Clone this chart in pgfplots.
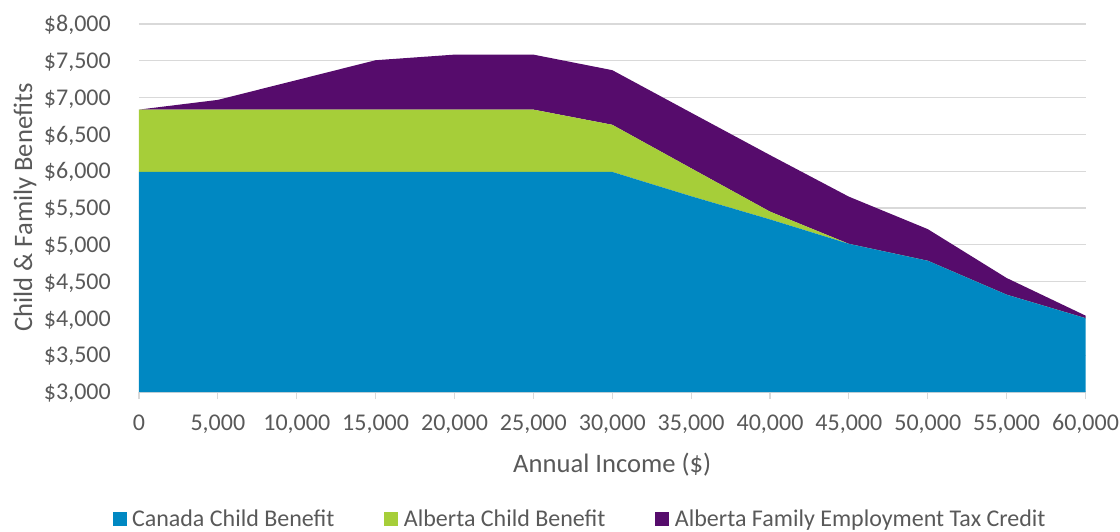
\documentclass[border=0pt]{standalone}
\usepackage{fontspec}
\setmainfont{Carlito}
\usepackage{pgfplots}
\pgfplotsset{compat=1.18}
\definecolor{cblue}{HTML}{0088C2}
\definecolor{cgreen}{HTML}{A6CE39}
\definecolor{cpurple}{HTML}{560C6C}
\definecolor{tgray}{HTML}{595959}
\definecolor{ggray}{HTML}{D9D9D9}
\begin{document}
\begin{tikzpicture}
\begin{axis}[
  at={(139pt,139pt)}, anchor=south west,
  scale only axis, width=946.5pt, height=368pt,
  xmin=0, xmax=60000, ymin=3000, ymax=8000,
  enlargelimits=false,
  stack plots=y,
  xtick={0,5000,...,60000},
  ytick={3000,3500,...,8000},
  scaled ticks=false,
  /pgf/number format/.cd, fixed, 1000 sep={,}, assume math mode=true, /pgfplots/.cd,
  yticklabel={\$\pgfmathprintnumber{\tick}},
  tick label style={font=\fontsize{24}{28}\selectfont, text=tgray, inner sep=0pt},
  xticklabel style={anchor=base, yshift=-31pt},
  yticklabel style={anchor=base east, xshift=-21pt, yshift=-7.6pt},
  axis x line*=bottom, axis y line*=left,
  separate axis lines,
  x axis line style={draw=ggray, line width=1.2pt},
  y axis line style={draw=none},
  xtick pos=bottom, ytick pos=left,
  xtick style={draw=ggray, line width=1.2pt},
  ytick style={draw=none},
  tick align=outside, major tick length=7pt,
  ymajorgrids, grid style={draw=ggray, line width=1.2pt},
  label style={font=\fontsize{26.6}{32}\selectfont, text=tgray},
  xlabel={Annual Income (\$)},
  ylabel={Child \& Family Benefits},
  xlabel style={at={(axis description cs:0.5,-0.2174)}, anchor=base},
  ylabel style={at={(axis description cs:-0.1130,0.5014)}, anchor=base},
  legend columns=3,
  legend image code/.code={\fill[#1] (0pt,-7pt) rectangle (14pt,7pt);},
  legend style={at={(axis description cs:0.4649,-0.3451)}, anchor=center,
    draw=none, fill=none, inner sep=0pt,
    font=\fontsize{24}{28}\selectfont, text=tgray,
    nodes={inner sep=0pt},
    /tikz/every odd column/.append style={column sep=5.5pt},
    /tikz/every even column/.append style={column sep=50pt}},
  legend cell align=left,
]
\addplot[fill=cblue, draw=none] coordinates {
(0,5990) (5000,5990) (10000,5990) (15000,5990) (20000,5990) (25000,5990) (30000,5990)
(35000,5660) (40000,5345) (45000,5013) (50000,4783) (55000,4322) (60000,4003)} \closedcycle;
\addlegendentry{Canada Child Benefit}
\addplot[fill=cgreen, draw=none] coordinates {
(0,847) (5000,847) (10000,847) (15000,847) (20000,847) (25000,847) (30000,641)
(35000,380) (40000,106) (45000,0) (50000,0) (55000,0) (60000,0)} \closedcycle;
\addlegendentry{Alberta Child Benefit}
\addplot[fill=cpurple, draw=none] coordinates {
(0,0) (5000,132) (10000,401) (15000,671) (20000,747) (25000,747) (30000,742)
(35000,755) (40000,768) (45000,641) (50000,430) (55000,227) (60000,35)} \closedcycle;
\addlegendentry{Alberta Family Employment Tax Credit}
\end{axis}
\pgfresetboundingbox
\useasboundingbox (0,0) rectangle (1120pt,531pt);
\end{tikzpicture}
\end{document}
